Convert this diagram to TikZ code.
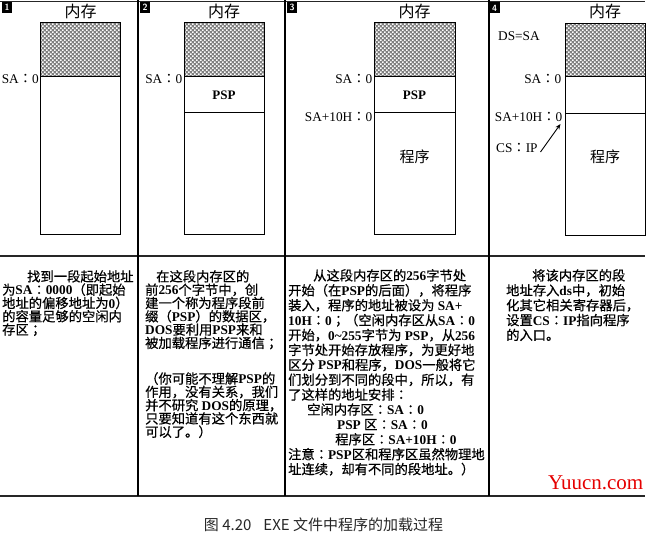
\documentclass[tikz,border=0pt]{standalone}
\usepackage{fontspec}
\setmainfont{Liberation Serif}
\newfontfamily\cjkfont{Noto Sans CJK SC}[BoldFont={Noto Sans CJK SC}, BoldFeatures={FakeBold=0.6}]
\newfontfamily\tcfont{Noto Sans CJK TC}[BoldFont={Noto Sans CJK TC}, BoldFeatures={FakeBold=0.6}]
\newfontfamily\wmfont{Liberation Serif}
\usetikzlibrary{patterns,arrows.meta}
\pgfdeclarepatternformonly{finecheck}{\pgfqpoint{-0.1pt}{-0.1pt}}{\pgfqpoint{4.1pt}{4.1pt}}{\pgfqpoint{4pt}{4pt}}{%
  \pgfpathrectangle{\pgfpointorigin}{\pgfqpoint{1.5pt}{1.5pt}}%
  \pgfpathrectangle{\pgfqpoint{2pt}{2pt}}{\pgfqpoint{1.5pt}{1.5pt}}%
  \pgfusepath{fill}}
% automatic switching between Latin and CJK fonts
\XeTeXinterchartokenstate=1
\newXeTeXintercharclass\cjkcls
\newXeTeXintercharclass\colcls
\newcount\cjkcc
\def\setcjkrange#1#2{\cjkcc=#1 \loop\XeTeXcharclass\cjkcc=\cjkcls\ifnum\cjkcc<#2 \advance\cjkcc by 1 \repeat}
\setcjkrange{"3000}{"303F}
\setcjkrange{"4E00}{"9FFF}
\setcjkrange{"FF00}{"FFEF}
\XeTeXcharclass"FF1A=\colcls
\XeTeXcharclass"FF1B=\colcls
\XeTeXinterchartoks 0 \cjkcls = {\cjkfont}
\XeTeXinterchartoks 4095 \cjkcls = {\cjkfont}
\XeTeXinterchartoks \cjkcls 0 = {\rmfamily}
\XeTeXinterchartoks \cjkcls 4095 = {\rmfamily}
\XeTeXinterchartoks 0 \colcls = {\tcfont}
\XeTeXinterchartoks 4095 \colcls = {\tcfont}
\XeTeXinterchartoks \cjkcls \colcls = {\tcfont}
\XeTeXinterchartoks \colcls 0 = {\rmfamily}
\XeTeXinterchartoks \colcls 4095 = {\rmfamily}
\XeTeXinterchartoks \colcls \cjkcls = {\cjkfont}
\tikzset{
  divider/.style={line width=1.8pt, black},
  rulex/.style={line width=1.3pt, black!85},
  membox/.style={draw, line width=0.8pt},
  hatch/.style={preaction={fill=black!50}, pattern=finecheck, pattern color=white},
  num/.style={fill=black, text=white, font=\sffamily\bfseries\fontsize{9}{9}\selectfont, inner sep=0pt, minimum width=10pt, minimum height=11pt},
  memtitle/.style={font=\fontsize{16}{16}\selectfont, inner sep=0pt},
  addr/.style={font=\fontsize{13.3}{14}\selectfont, inner sep=0pt},
  region/.style={font=\bfseries\fontsize{13}{14}\selectfont, inner sep=0pt},
  prog/.style={font=\fontsize{15}{15}\selectfont, inner sep=0pt},
  paraA/.style={align=left, anchor=north west, inner sep=0pt, font=\bfseries\fontsize{13.3}{13.3}\selectfont},
  paraB/.style={align=left, anchor=north west, inner sep=0pt, font=\bfseries\fontsize{13.3}{14.9}\selectfont},
}
\begin{document}
\begin{tikzpicture}[x=1pt,y=-1pt]
\useasboundingbox (0,0) rectangle (659,537);
% frame lines
\draw[rulex] (0,1.2) -- (645,1.2);
\draw[rulex] (0,256) -- (645,256);
\draw[rulex] (0,496) -- (645,496);
\draw[divider] (138,0) -- (138,496);
\draw[divider] (285,0) -- (285,496);
\draw[divider] (489,0) -- (489,496);
% panel numbers
\node[num] (n1) at (7,7.5) {1};
\node[num] (n2) at (145,7.5) {2};
\node[num] (n3) at (292,7.5) {3};
\node[num] (n4) at (494.5,8) {4};
% titles
\node[memtitle] (t1) at (80.5,11) {内存};
\node[memtitle] (t2) at (224,11) {内存};
\node[memtitle] (t3) at (414.5,11) {内存};
\node[memtitle] (t4) at (605,11) {内存};
% panel 1 memory
\fill[hatch] (40.5,22) rectangle (120.5,76);
\draw[membox] (40.5,22) rectangle (120.5,234);
\draw[membox] (40.5,76) -- (120.5,76);
\node[addr, anchor=east] (sa1) at (39,79) {SA：0};
% panel 2 memory
\fill[hatch] (184,22) rectangle (264,76);
\draw[membox] (184,22) rectangle (264,234);
\draw[membox] (184,76) -- (264,76);
\draw[membox] (184,112) -- (264,112);
\node[addr, anchor=east] (sa2) at (182.5,79) {SA：0};
\node[region] (psp2) at (224,95) {PSP};
% panel 3 memory
\fill[hatch] (374,22) rectangle (455,76);
\draw[membox] (374,22) rectangle (455,234);
\draw[membox] (374,76) -- (455,76);
\draw[membox] (374,112) -- (455,112);
\node[addr, anchor=east] (sa3) at (372.5,79) {SA：0};
\node[addr, anchor=east] (sb3) at (372.5,117) {SA+10H：0};
\node[region] (psp3) at (414.5,95) {PSP};
\node[prog] (pr3) at (414.5,157) {程序};
% panel 4 memory
\fill[hatch] (565,23) rectangle (645,76);
\draw[membox] (565,23) rectangle (645,235);
\draw[membox] (565,76) -- (645,76);
\draw[membox] (565,113) -- (645,113);
\node[addr, anchor=west] (ds4) at (498,36) {DS=SA};
\node[addr, anchor=east] (sa4) at (561.5,79) {SA：0};
\node[addr, anchor=east] (sb4) at (562.5,117) {SA+10H：0};
\node[addr, anchor=west] (cs4) at (496,148) {CS：IP};
\node[prog] (pr4) at (605,157) {程序};
\coordinate (arrtail) at (540.5,152);
\coordinate (arrtip) at (560.5,124);
\draw[line width=0.9pt, -{Stealth[length=5.5pt,width=4.5pt]}] (arrtail) -- (arrtip);
% texts
\node[paraA] (p1) at (2,270) {\hspace*{25pt}找到一段起始地址\\为SA：0000（即起始\\地址的偏移地址为0）\\的容量足够的空闲内\\存区；};
\node[paraA] (p2a) at (145,270) {\hspace*{11pt}在这段内存区的\\前256个字节中，创\\建一个称为程序段前\\缀（PSP）的数据区，\\DOS要利用PSP来和\\被加载程序进行通信；};
\node[paraA] (p2b) at (145,372) {（你可能不理解PSP的\\作用，没有关系，我们\\并不研究 DOS的原理，\\只要知道有这个东西就\\可以了。）};
\node[paraB] (p3) at (288,269) {\hspace*{25pt}从这段内存区的256字节处\\开始（在PSP的后面），将程序\\装入，程序的地址被设为 SA+\\10H：0；（空闲内存区从SA：0\\开始，0\textasciitilde255字节为 PSP，从256\\字节处开始存放程序，为更好地\\区分 PSP和程序，DOS一般将它\\们划分到不同的段中，所以，有\\了这样的地址安排：\\\hspace*{19pt}空闲内存区：SA：0\\\hspace*{49pt}PSP 区：SA：0\\\hspace*{47pt}程序区：SA+10H：0\\注意：PSP区和程序区虽然物理地\\址连续，却有不同的段地址。）};
\node[paraB] (p4) at (506,269) {\hspace*{26pt}将该内存区的段\\地址存入ds中，初始\\化其它相关寄存器后，\\设置CS：IP指向程序\\的入口。};
% watermark
\node[anchor=base west, inner sep=0pt, text=red!90!black, font=\wmfont\fontsize{21}{21}\selectfont] (wm) at (548,489) {Yuucn.com};
% caption
\node[inner sep=0pt, text=black!85, font={\XeTeXinterchartokenstate=0 \cjkfont\fontsize{15}{15}\selectfont}] (cap) at (323.5,525) {图 4.20\hspace{12pt}EXE 文件中程序的加载过程};
\end{tikzpicture}
\end{document}
